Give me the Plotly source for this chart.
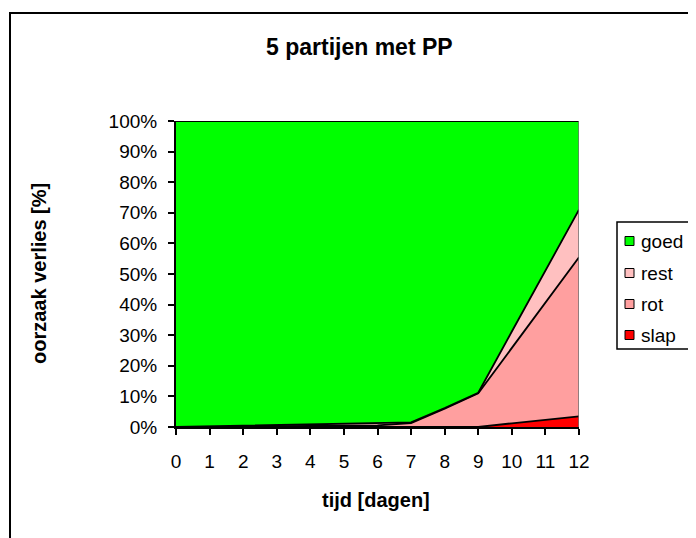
import plotly.graph_objects as go

# ---- data (percent of total per day) ----
days = [0, 1, 2, 3, 4, 5, 6, 7, 8, 9, 10, 11, 12]
slap = [0, 0, 0, 0, 0, 0, 0, 0, 0, 0, 1.2, 2.3, 3.5]
rot = [0, 0, 0, 0.3, 0.3, 0.4, 0.5, 1.3, 6.0, 11.0, 24.7, 38.3, 52.0]
rest = [0, 0.2, 0.3, 0.3, 0.4, 0.5, 0.6, 0.2, 0.2, 0.2, 5.3, 10.4, 15.5]
goed = [100, 99.8, 99.7, 99.4, 99.3, 99.1, 98.9, 98.5, 93.8, 88.8, 68.8, 49.0, 29.0]
y_ticks = [0, 10, 20, 30, 40, 50, 60, 70, 80, 90, 100]
legend_order = ["goed", "rest", "rot", "slap"]

colors = {"goed": "#00FF00", "rest": "#FFC0C0", "rot": "#FF9F9F", "slap": "#FF0000"}
FONT = "Liberation Sans, Arial, sans-serif"

OFF = 8  # page body margin
W, H = 696 - OFF, 538 - OFF
# plot area in page pixel coordinates
L, R, T, B = 176, 579, 121, 427


def px(x):
    return (x - L) / (R - L)


def py(y):
    return (B - y) / (B - T)


fig = go.Figure()
for i, (name, vals) in enumerate([("slap", slap), ("rot", rot), ("rest", rest), ("goed", goed)]):
    kw = dict(groupnorm="percent") if i == 0 else {}
    fig.add_trace(go.Scatter(
        x=days, y=vals, name=name, mode="lines", stackgroup="one",
        fillcolor=colors[name], line=dict(color="black", width=1.8),
        showlegend=False, **kw))

shapes = []
# outer chart border (extends beyond the window)
shapes.append(dict(type="path", xref="paper", yref="paper",
                   path=f"M {px(10)},{py(545)} L {px(10)},{py(13)} L {px(705)},{py(13)}",
                   line=dict(color="black", width=2)))
# right edge of plot area
shapes.append(dict(type="line", xref="x", yref="y", x0=12, x1=12, y0=0, y1=100,
                   line=dict(color="#707070", width=1.5)))
# legend box
shapes.append(dict(type="rect", xref="paper", yref="paper",
                   x0=px(617), x1=px(720), y0=py(349), y1=py(222),
                   line=dict(color="black", width=1.5), fillcolor="white"))
annotations = []
item_y = [241, 273, 304, 335]
for name, yc in zip(legend_order, item_y):
    shapes.append(dict(type="rect", xref="paper", yref="paper",
                       x0=px(625), x1=px(634), y0=py(yc + 4.5), y1=py(yc - 4.5),
                       line=dict(color="black", width=1), fillcolor=colors[name]))
    annotations.append(dict(text=name, xref="paper", yref="paper", x=px(639), y=py(yc),
                            xanchor="left", yanchor="middle", showarrow=False,
                            font=dict(family=FONT, size=19, color="black")))

annotations.append(dict(text="<b>5 partijen met PP</b>", xref="paper", yref="paper",
                        x=px(359), y=py(47), xanchor="center", yanchor="middle",
                        showarrow=False, font=dict(family=FONT, size=23, color="black")))
annotations.append(dict(text="<b>tijd [dagen]</b>", xref="paper", yref="paper",
                        x=px(376), y=py(500), xanchor="center", yanchor="middle",
                        showarrow=False, font=dict(family=FONT, size=20, color="black")))
annotations.append(dict(text="<b>oorzaak verlies [%]</b>", xref="paper", yref="paper",
                        x=px(39), y=py(274), xanchor="center", yanchor="middle",
                        textangle=-90, showarrow=False,
                        font=dict(family=FONT, size=20, color="black")))

fig.update_layout(
    width=W, height=H,
    margin=dict(l=L - OFF, r=W - (R - OFF), t=T - OFF, b=H - (B - OFF), pad=0),
    paper_bgcolor="white", plot_bgcolor="white",
    font=dict(family=FONT, size=19, color="black"),
    shapes=shapes, annotations=annotations, showlegend=False,
    xaxis=dict(range=[0, 12], tickvals=days, ticktext=[str(d) for d in days],
               ticks="outside", ticklen=6, tickwidth=1.5, tickcolor="black",
               showline=True, linecolor="black", linewidth=2,
               showgrid=False, zeroline=False, ticklabelstandoff=10,
               tickfont=dict(family=FONT, size=19)),
    yaxis=dict(range=[0, 100], tickvals=y_ticks, ticktext=[f"{v}%" for v in y_ticks],
               ticks="outside", ticklen=6, tickwidth=1.5, tickcolor="black",
               showline=True, linecolor="black", linewidth=2,
               showgrid=False, zeroline=False, ticklabelstandoff=7,
               tickfont=dict(family=FONT, size=19)),
)

fig.write_html("out.html")
